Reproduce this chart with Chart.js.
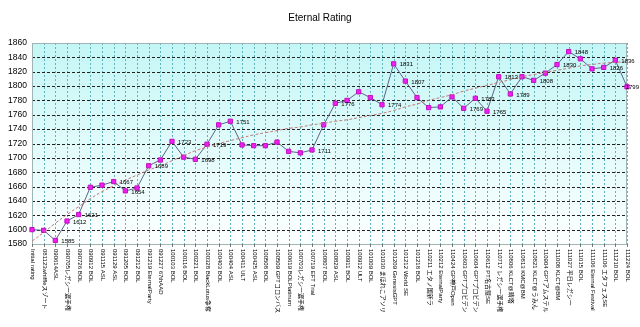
<!DOCTYPE html>
<html>
<head>
<meta charset="utf-8">
<script src="https://cdn.jsdelivr.net/npm/chart.js"></script>
<style>
  html, body { margin: 0; padding: 0; background: #fff; }
</style>
</head>
<body>
<canvas id="ratingChart" width="640" height="327"></canvas>
<script>
var events = [
  "Initial rating", "081123whiffleスゾート", "090614ASL", "090705レガシー選手権", "090726 BOL",
  "090912 BOL", "091115 ASL", "091129 ASL", "091205 BOL", "091212 BOL",
  "091219 EternalParty", "091227 67thAAD", "100103 BOL", "100116 BOL", "100221 BOL",
  "100328 BlackLotus争奪", "100403 BOL", "100404 ASL", "100411 ULT", "100425 ASL",
  "100508 BOL", "100509 GPTコロンバス", "100619 BOLPlatinum", "100703レガシー選手権", "100719 EFT Trial",
  "100807 BOL", "100829 ASL", "100911 BOL", "100912 ULT", "101009 BOL",
  "101030 まほれこアソリ", "101209 GenesisGPT", "101212 World SE", "101218 BOL", "110211 エタノ国新ラ",
  "110212 EternalParty", "110424 GP神戸Open", "110603 GPTプロビデン", "110604 GPTプロビデン", "110612 PT名古屋SE",
  "110717 レガシー選手権", "110806 KLCT@晴塔", "110813 KMC@BM", "110821 KLCT@うみん", "110904 GPTアムステル",
  "111008 KLCT@BM", "111027 平日レガシー", "111015 BOL", "111106 Eternal Festival", "111106 エタフェスSE",
  "111210 BOL", "111224 BOL"
];

var ratings = [
  1600, 1599, 1585, 1612, 1621, 1659, 1662, 1667, 1654, 1658,
  1689, 1697, 1723, 1701, 1698, 1719, 1746, 1751, 1718, 1717,
  1717, 1722, 1709, 1707, 1711, 1746, 1776, 1780, 1792, 1784,
  1774, 1831, 1807, 1784, 1770, 1771, 1785, 1769, 1783, 1765,
  1813, 1789, 1813, 1808, 1818, 1830, 1848, 1838, 1824, 1826,
  1836, 1799
];

// trendline
var trend = [
  1584, 1596, 1609, 1621, 1632, 1643, 1653, 1661, 1669, 1676,
  1683, 1689, 1696, 1703, 1710, 1715, 1720, 1724, 1728, 1732,
  1735, 1738, 1741, 1743, 1746, 1748, 1751, 1753, 1756, 1759,
  1762, 1766, 1771, 1775, 1780, 1784, 1788, 1793, 1797, 1801,
  1805, 1809, 1813, 1816, 1819, 1822, 1825, 1828, 1830, 1832,
  1833, 1834
];

// points that carry a value label
var labelled = [2, 3, 4, 7, 8, 10, 12, 14, 15, 17, 24, 26, 30, 31, 32, 37, 38, 39, 40, 41, 43, 45, 46, 49, 50, 51];

var yTicks = { min: 1580, max: 1860, step: 20 };

var LABEL_FONT = '"Liberation Sans", "Noto Sans CJK JP", sans-serif';

var decorPlugin = {
  id: 'decor',
  beforeDatasetsDraw: function(chart) {
    var ctx = chart.ctx, a = chart.chartArea;
    var xs = chart.scales.x, ys = chart.scales.y;
    ctx.save();
    var g = ctx.createLinearGradient(0, a.top, 0, a.bottom);
    g.addColorStop(0, '#c4f6f6');
    g.addColorStop(1, '#fdffff');
    ctx.fillStyle = g;
    ctx.fillRect(a.left, a.top, a.right - a.left, a.bottom - a.top);

    ctx.lineWidth = 1;
    // vertical grid, one per event
    ctx.strokeStyle = '#5fb3bb';
    ctx.setLineDash([2, 2]);
    events.forEach(function(t, i) {
      var px = Math.round(xs.getPixelForValue(i)) + 0.5;
      ctx.beginPath();
      ctx.moveTo(px, a.top);
      ctx.lineTo(px, a.bottom);
      ctx.stroke();
    });
    // horizontal grid
    ctx.strokeStyle = '#222';
    ctx.setLineDash([3, 2]);
    ys.ticks.forEach(function(tk) {
      var py = Math.round(ys.getPixelForValue(tk.value)) + 0.5;
      ctx.beginPath();
      ctx.moveTo(a.left, py);
      ctx.lineTo(a.right, py);
      ctx.stroke();
    });
    ctx.setLineDash([]);
    ctx.strokeStyle = '#9fb4b4';
    ctx.strokeRect(a.left + 0.5, a.top + 0.5, a.right - a.left - 1, a.bottom - a.top);
    ctx.restore();
  },
  afterDraw: function(chart) {
    var ctx = chart.ctx, a = chart.chartArea;
    var xs = chart.scales.x, meta = chart.getDatasetMeta(0);
    ctx.save();
    // title
    ctx.fillStyle = '#000';
    ctx.font = '10px ' + LABEL_FONT;
    ctx.textAlign = 'center';
    ctx.textBaseline = 'middle';
    ctx.fillText('Eternal Rating', 320, 18);

    // value labels, kept inside the canvas
    ctx.font = '6px ' + LABEL_FONT;
    ctx.textAlign = 'left';
    labelled.forEach(function(i) {
      var p = meta.data[i];
      var s = String(ratings[i]);
      var lx = Math.min(p.x + 6, chart.width - ctx.measureText(s).width - 1);
      ctx.fillText(s, lx, p.y + 1);
    });

    // category labels, rotated clockwise
    ctx.font = '6px ' + LABEL_FONT;
    ctx.lineWidth = 1;
    events.forEach(function(t, i) {
      var px = Math.round(xs.getPixelForValue(i)) + 0.5;
      ctx.strokeStyle = '#777';
      ctx.beginPath();
      ctx.moveTo(px, a.bottom);
      ctx.lineTo(px, a.bottom + 3);
      ctx.stroke();
      ctx.save();
      ctx.translate(px, a.bottom + 5);
      ctx.rotate(Math.PI / 2);
      ctx.fillText(t, 0, 0);
      ctx.restore();
    });
    ctx.restore();
  }
};

var ctx = document.getElementById('ratingChart').getContext('2d');
var ratingChart = new Chart(ctx, {
  type: 'line',
  data: {
    labels: events,
    datasets: [{
      label: 'Rating',
      data: ratings,
      borderColor: '#5a6488',
      borderWidth: 1,
      pointStyle: 'rect',
      pointRadius: 3,
      pointBackgroundColor: '#f020f0',
      pointBorderColor: '#c010c0',
      pointBorderWidth: 1,
      tension: 0,
      order: 2
    }, {
      label: 'Trend',
      data: trend,
      borderColor: '#c07878',
      borderWidth: 1,
      borderDash: [3, 2],
      pointRadius: 0,
      tension: 0.4,
      order: 1
    }]
  },
  options: {
    responsive: false,
    animation: false,
    layout: { padding: { top: 43, right: 13, bottom: 75, left: 0 } },
    plugins: {
      legend: { display: false },
      title: { display: false },
      tooltip: { enabled: false }
    },
    scales: {
      x: {
        type: 'category',
        offset: false,
        ticks: { display: false },
        grid: { display: false },
        border: { display: false }
      },
      y: {
        min: yTicks.min,
        max: yTicks.max,
        afterFit: function(scale) { scale.width = 32; },
        ticks: {
          stepSize: yTicks.step,
          color: '#000',
          padding: 5,
          font: { size: 8.5, family: LABEL_FONT },
          callback: function(v) { return String(v); }
        },
        grid: { display: false, drawTicks: false },
        border: { display: false }
      }
    }
  },
  plugins: [decorPlugin]
});
</script>
</body>
</html>
